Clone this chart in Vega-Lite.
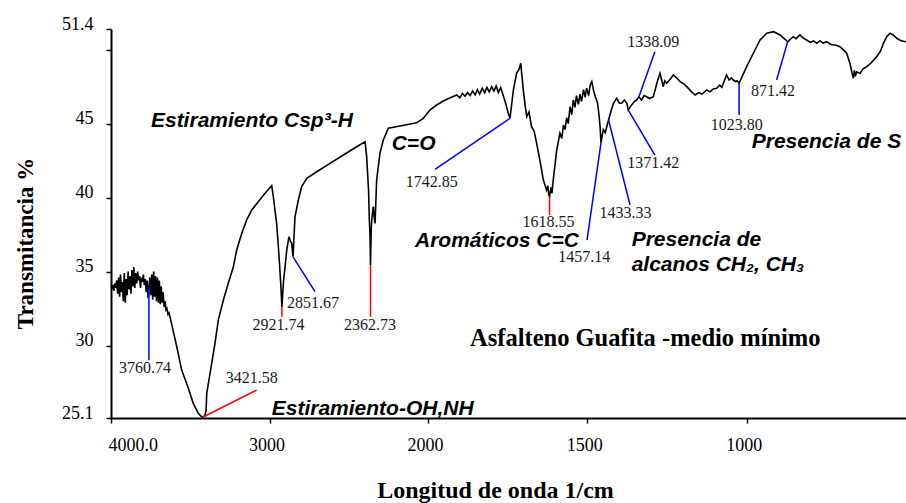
{
  "$schema": "https://vega.github.io/schema/vega-lite/v6.json",
  "width": 795,
  "height": 389,
  "autosize": {"type": "none"},
  "padding": {"left": 111, "top": 29, "right": 0, "bottom": 85},
  "background": "white",
  "config": {
    "view": {"stroke": null},
    "font": "Liberation Serif",
    "axis": {
      "domainColor": "#000000",
      "domainWidth": 2,
      "tickColor": "#000000",
      "tickWidth": 1.5,
      "tickSize": 5,
      "grid": false,
      "labelFont": "Liberation Serif",
      "labelFontSize": 18,
      "labelColor": "#000000",
      "titleFont": "Liberation Serif",
      "titleFontWeight": "bold",
      "titleFontSize": 23,
      "titleColor": "#000000"
    }
  },
  "datasets": {
    "espectro": [
      {"w": 4000, "t": 34.0}, {"w": 3994, "t": 33.9}, {"w": 3988, "t": 34.1}, {"w": 3982, "t": 33.7},
      {"w": 3976, "t": 34.2}, {"w": 3970, "t": 33.9}, {"w": 3964, "t": 34.4}, {"w": 3958, "t": 33.5},
      {"w": 3952, "t": 34.6}, {"w": 3946, "t": 33.3}, {"w": 3940, "t": 34.8}, {"w": 3934, "t": 33.6},
      {"w": 3928, "t": 34.3}, {"w": 3922, "t": 33.0}, {"w": 3916, "t": 34.9}, {"w": 3910, "t": 32.9},
      {"w": 3904, "t": 34.5}, {"w": 3898, "t": 33.4}, {"w": 3892, "t": 35.0}, {"w": 3886, "t": 33.8},
      {"w": 3880, "t": 34.7}, {"w": 3874, "t": 33.5}, {"w": 3868, "t": 35.1}, {"w": 3862, "t": 34.0},
      {"w": 3856, "t": 35.3}, {"w": 3850, "t": 33.9}, {"w": 3844, "t": 34.9}, {"w": 3838, "t": 34.2},
      {"w": 3832, "t": 35.0}, {"w": 3826, "t": 34.4}, {"w": 3820, "t": 34.7}, {"w": 3814, "t": 33.9},
      {"w": 3808, "t": 34.6}, {"w": 3802, "t": 34.3}, {"w": 3796, "t": 34.8}, {"w": 3790, "t": 34.1},
      {"w": 3784, "t": 34.5}, {"w": 3778, "t": 33.6}, {"w": 3772, "t": 34.4}, {"w": 3766, "t": 33.2},
      {"w": 3760.74, "t": 33.9}, {"w": 3755, "t": 34.6}, {"w": 3749, "t": 33.4}, {"w": 3743, "t": 34.8},
      {"w": 3737, "t": 33.1}, {"w": 3731, "t": 35.0}, {"w": 3725, "t": 33.3}, {"w": 3719, "t": 34.7},
      {"w": 3713, "t": 33.0}, {"w": 3707, "t": 34.6}, {"w": 3701, "t": 32.9}, {"w": 3695, "t": 34.4},
      {"w": 3689, "t": 32.8}, {"w": 3683, "t": 34.0}, {"w": 3677, "t": 32.9}, {"w": 3671, "t": 33.6},
      {"w": 3665, "t": 32.6}, {"w": 3659, "t": 33.0}, {"w": 3653, "t": 32.4}, {"w": 3647, "t": 32.5},
      {"w": 3640, "t": 32.1}, {"w": 3634, "t": 32.2}, {"w": 3628, "t": 31.95},
      {"w": 3585, "t": 29.92}, {"w": 3554, "t": 28.34}, {"w": 3512, "t": 27.11}, {"w": 3481, "t": 26.09},
      {"w": 3449, "t": 25.42}, {"w": 3432, "t": 25.22}, {"w": 3421.58, "t": 25.15}, {"w": 3408, "t": 25.25},
      {"w": 3400, "t": 25.6}, {"w": 3396, "t": 26.77}, {"w": 3375, "t": 28.12}, {"w": 3344, "t": 30.15},
      {"w": 3323, "t": 31.72}, {"w": 3291, "t": 33.08}, {"w": 3260, "t": 34.21}, {"w": 3228, "t": 35.33},
      {"w": 3207, "t": 36.46}, {"w": 3175, "t": 37.59}, {"w": 3144, "t": 38.49}, {"w": 3112, "t": 39.16},
      {"w": 3071, "t": 39.72}, {"w": 3028, "t": 40.29}, {"w": 2986, "t": 40.81}, {"w": 2976, "t": 40.06},
      {"w": 2955, "t": 38.26}, {"w": 2944, "t": 36.68}, {"w": 2935, "t": 35.2}, {"w": 2928, "t": 34.0},
      {"w": 2921.74, "t": 32.6}, {"w": 2912, "t": 34.3}, {"w": 2902, "t": 35.3}, {"w": 2891, "t": 36.46},
      {"w": 2877, "t": 37.36}, {"w": 2866, "t": 37.0}, {"w": 2860, "t": 36.91}, {"w": 2851.67, "t": 36.0},
      {"w": 2845, "t": 37.5}, {"w": 2839, "t": 38.71}, {"w": 2818, "t": 39.84}, {"w": 2797, "t": 40.74},
      {"w": 2765, "t": 41.31}, {"w": 2702, "t": 41.75}, {"w": 2618, "t": 42.32}, {"w": 2534, "t": 42.88},
      {"w": 2450, "t": 43.44}, {"w": 2397, "t": 43.78}, {"w": 2387, "t": 42.77}, {"w": 2375, "t": 40.5},
      {"w": 2370, "t": 38.49}, {"w": 2366, "t": 37.5}, {"w": 2362.73, "t": 35.44}, {"w": 2358, "t": 38.0},
      {"w": 2352, "t": 38.8}, {"w": 2345, "t": 39.39}, {"w": 2339, "t": 38.6}, {"w": 2334, "t": 38.26},
      {"w": 2324, "t": 41.19}, {"w": 2303, "t": 43.0}, {"w": 2282, "t": 43.9}, {"w": 2250, "t": 44.69},
      {"w": 2177, "t": 44.84}, {"w": 2071, "t": 45.06}, {"w": 2030, "t": 45.36}, {"w": 1994, "t": 45.92},
      {"w": 1973, "t": 46.26}, {"w": 1952, "t": 46.53}, {"w": 1930, "t": 46.75}, {"w": 1910, "t": 46.94},
      {"w": 1900, "t": 46.75}, {"w": 1892, "t": 47.05}, {"w": 1884, "t": 46.85}, {"w": 1876, "t": 47.1},
      {"w": 1868, "t": 46.9}, {"w": 1860, "t": 47.2}, {"w": 1852, "t": 46.95}, {"w": 1845, "t": 47.3},
      {"w": 1838, "t": 47.0}, {"w": 1830, "t": 47.4}, {"w": 1822, "t": 47.1}, {"w": 1815, "t": 47.45},
      {"w": 1808, "t": 47.15}, {"w": 1800, "t": 47.5}, {"w": 1793, "t": 47.2}, {"w": 1786, "t": 47.55},
      {"w": 1779, "t": 47.1}, {"w": 1772, "t": 47.45}, {"w": 1764, "t": 46.9}, {"w": 1758, "t": 46.5},
      {"w": 1752, "t": 46.0}, {"w": 1748, "t": 45.7}, {"w": 1742.85, "t": 45.36}, {"w": 1738, "t": 46.2},
      {"w": 1732, "t": 47.28}, {"w": 1722, "t": 48.4}, {"w": 1714, "t": 48.7}, {"w": 1709, "t": 49.08},
      {"w": 1705, "t": 48.2}, {"w": 1701, "t": 47.28}, {"w": 1695, "t": 46.2}, {"w": 1690, "t": 45.47},
      {"w": 1683, "t": 45.8}, {"w": 1675, "t": 44.79}, {"w": 1667, "t": 44.5}, {"w": 1659, "t": 43.67},
      {"w": 1649, "t": 42.54}, {"w": 1638, "t": 41.19}, {"w": 1628, "t": 40.51}, {"w": 1624, "t": 40.8},
      {"w": 1621, "t": 40.2}, {"w": 1618.55, "t": 40.06}, {"w": 1614, "t": 40.7}, {"w": 1611, "t": 40.3},
      {"w": 1607, "t": 41.19}, {"w": 1596, "t": 43.22}, {"w": 1586, "t": 44.35}, {"w": 1580, "t": 44.0},
      {"w": 1575, "t": 44.9}, {"w": 1570, "t": 44.6}, {"w": 1565, "t": 45.4}, {"w": 1560, "t": 45.0},
      {"w": 1554, "t": 46.15}, {"w": 1549, "t": 45.6}, {"w": 1544, "t": 46.6}, {"w": 1539, "t": 46.1},
      {"w": 1534, "t": 46.9}, {"w": 1528, "t": 46.3}, {"w": 1523, "t": 47.0}, {"w": 1518, "t": 46.5},
      {"w": 1512, "t": 47.3}, {"w": 1507, "t": 46.8}, {"w": 1502, "t": 47.4}, {"w": 1496, "t": 46.9},
      {"w": 1491, "t": 47.6}, {"w": 1486, "t": 47.84}, {"w": 1480, "t": 47.2}, {"w": 1475, "t": 46.82},
      {"w": 1468, "t": 46.4}, {"w": 1463, "t": 45.5}, {"w": 1460, "t": 44.8}, {"w": 1457.14, "t": 43.7},
      {"w": 1450, "t": 44.6}, {"w": 1444, "t": 44.4}, {"w": 1439, "t": 44.79}, {"w": 1433.33, "t": 45.25},
      {"w": 1425, "t": 45.9}, {"w": 1418, "t": 46.38}, {"w": 1408, "t": 46.71}, {"w": 1400, "t": 46.4},
      {"w": 1392, "t": 46.38}, {"w": 1384, "t": 46.6}, {"w": 1376, "t": 46.38}, {"w": 1371.42, "t": 45.92},
      {"w": 1360, "t": 46.3}, {"w": 1352, "t": 46.5}, {"w": 1345, "t": 46.6}, {"w": 1338.09, "t": 46.82},
      {"w": 1330, "t": 46.6}, {"w": 1322, "t": 46.9}, {"w": 1314, "t": 46.82}, {"w": 1305, "t": 46.7},
      {"w": 1293, "t": 46.82}, {"w": 1287, "t": 47.3}, {"w": 1282, "t": 47.73}, {"w": 1272, "t": 48.4},
      {"w": 1266, "t": 47.9}, {"w": 1262, "t": 47.5}, {"w": 1257, "t": 47.9}, {"w": 1251, "t": 47.73},
      {"w": 1240, "t": 48.0}, {"w": 1230, "t": 48.29}, {"w": 1220, "t": 48.1}, {"w": 1209, "t": 47.84},
      {"w": 1198, "t": 47.7}, {"w": 1188, "t": 47.5}, {"w": 1175, "t": 47.2}, {"w": 1162, "t": 46.94},
      {"w": 1150, "t": 47.1}, {"w": 1140, "t": 47.0}, {"w": 1125, "t": 47.28}, {"w": 1115, "t": 47.15},
      {"w": 1105, "t": 47.35}, {"w": 1094, "t": 47.39}, {"w": 1085, "t": 47.6}, {"w": 1078, "t": 47.45},
      {"w": 1070, "t": 47.9}, {"w": 1063, "t": 48.29}, {"w": 1055, "t": 47.95}, {"w": 1048, "t": 48.1},
      {"w": 1042, "t": 47.95}, {"w": 1035, "t": 47.85}, {"w": 1030, "t": 47.9}, {"w": 1023.8, "t": 47.73},
      {"w": 1000, "t": 48.85}, {"w": 979, "t": 49.76}, {"w": 958, "t": 50.66}, {"w": 937, "t": 51.11},
      {"w": 916, "t": 51.22}, {"w": 895, "t": 51.0}, {"w": 871.42, "t": 50.54}, {"w": 854, "t": 50.88},
      {"w": 845, "t": 50.75}, {"w": 833, "t": 51.0}, {"w": 823, "t": 50.8}, {"w": 812, "t": 50.66},
      {"w": 800, "t": 50.5}, {"w": 790, "t": 50.6}, {"w": 780, "t": 50.43}, {"w": 770, "t": 50.6},
      {"w": 760, "t": 50.45}, {"w": 749, "t": 50.54}, {"w": 735, "t": 50.35}, {"w": 720, "t": 50.3},
      {"w": 707, "t": 50.2}, {"w": 695, "t": 49.95}, {"w": 686, "t": 49.76}, {"w": 675, "t": 49.0},
      {"w": 668, "t": 48.3}, {"w": 665, "t": 48.07}, {"w": 662, "t": 48.6}, {"w": 659, "t": 48.2},
      {"w": 655, "t": 48.5}, {"w": 644, "t": 48.4}, {"w": 635, "t": 48.7}, {"w": 623, "t": 48.85},
      {"w": 610, "t": 49.1}, {"w": 592, "t": 49.53}, {"w": 580, "t": 49.9}, {"w": 571, "t": 50.43},
      {"w": 560, "t": 50.9}, {"w": 550, "t": 51.11}, {"w": 540, "t": 51.0}, {"w": 529, "t": 50.77},
      {"w": 515, "t": 50.6}, {"w": 500, "t": 50.54}
    ],
    "bandas": [
      {"pico": "3760.74", "w": 3760.74, "t": 34.0, "w2": 3760.74, "t2": 29.0, "lw": 3785, "lt": 28.48, "enfasis": "secundaria"},
      {"pico": "3421.58", "w": 3421.58, "t": 25.15, "w2": 3081, "t2": 26.99, "lw": 3112, "lt": 27.78, "enfasis": "principal"},
      {"pico": "2921.74", "w": 2921.74, "t": 32.6, "w2": 2921.74, "t2": 31.95, "lw": 2944, "lt": 31.39, "enfasis": "principal"},
      {"pico": "2851.67", "w": 2851.67, "t": 36.0, "w2": 2713, "t2": 33.64, "lw": 2726, "lt": 32.85, "enfasis": "secundaria"},
      {"pico": "2362.73", "w": 2362.73, "t": 35.44, "w2": 2362.73, "t2": 31.95, "lw": 2366, "lt": 31.39, "enfasis": "principal"},
      {"pico": "1742.85", "w": 1742.85, "t": 45.36, "w2": 1978, "t2": 41.91, "lw": 1988, "lt": 41.08, "enfasis": "secundaria"},
      {"pico": "1618.55", "w": 1618.55, "t": 40.06, "w2": 1618.55, "t2": 38.82, "lw": 1622, "lt": 38.37, "enfasis": "principal"},
      {"pico": "1457.14", "w": 1457.14, "t": 43.7, "w2": 1501, "t2": 37.13, "lw": 1510, "lt": 36.0, "enfasis": "secundaria"},
      {"pico": "1433.33", "w": 1433.33, "t": 45.25, "w2": 1366, "t2": 39.5, "lw": 1380, "lt": 38.94, "enfasis": "secundaria"},
      {"pico": "1371.42", "w": 1371.42, "t": 45.92, "w2": 1288, "t2": 42.88, "lw": 1293, "lt": 42.32, "enfasis": "secundaria"},
      {"pico": "1338.09", "w": 1338.09, "t": 46.82, "w2": 1288, "t2": 49.87, "lw": 1293, "lt": 50.54, "enfasis": "secundaria"},
      {"pico": "1023.80", "w": 1023.8, "t": 47.73, "w2": 1023.8, "t2": 45.59, "lw": 1031, "lt": 44.91, "enfasis": "secundaria"},
      {"pico": "871.42", "w": 871.42, "t": 50.54, "w2": 906, "t2": 47.95, "lw": 917, "lt": 47.23, "enfasis": "secundaria"}
    ],
    "notas": [
      {"texto": "Estiramiento Csp³-H", "w": 3748, "t": 44.75},
      {"texto": "C=O", "w": 2229, "t": 43.22},
      {"texto": "Aromáticos C=C", "w": 2082, "t": 36.64},
      {"texto": "Presencia de", "w": 1361, "t": 36.75},
      {"texto": "alcanos CH₂, CH₃", "w": 1361, "t": 35.06},
      {"texto": "Presencia de S", "w": 984, "t": 43.33},
      {"texto": "Estiramiento-OH,NH", "w": 2986, "t": 25.3}
    ],
    "rotulo": [
      {"texto": "Asfalteno Guafita -medio mínimo", "w": 1868, "t": 29.97}
    ]
  },
  "layer": [
    {
      "data": {"name": "espectro"},
      "mark": {"type": "line", "color": "#000000", "strokeWidth": 1.6, "interpolate": "linear"},
      "encoding": {
        "x": {
          "field": "w", "type": "quantitative",
          "scale": {"type": "linear", "domain": [4000, 2000, 500], "range": [0, 317, 795], "nice": false, "zero": false},
          "axis": {
            "title": "Longitud de onda 1/cm",
            "titleFontSize": 24,
            "values": [4000, 3000, 2000, 1500, 1000],
            "labelExpr": "datum.value == 4000 ? '4000.0' : format(datum.value, 'd')",
            "labelPadding": 27,
            "labelBaseline": "alphabetic",
            "labelOffset": -3,
            "titleX": 384,
            "titleY": 79,
            "titleBaseline": "alphabetic",
            "titleAnchor": "middle"
          }
        },
        "y": {
          "field": "t", "type": "quantitative",
          "scale": {"domain": [25.1, 51.4], "nice": false, "zero": false},
          "axis": {
            "title": "Transmitancia %",
            "values": [25.1, 30, 35, 40, 45, 50, 51.4],
            "labelExpr": "datum.value == 50 ? '' : format(datum.value, '.3~')",
            "labelPadding": 13,
            "labelBaseline": "alphabetic",
            "titleX": -86,
            "titleY": 214,
            "titleAnchor": "middle",
            "titleBaseline": "middle"
          }
        }
      }
    },
    {
      "data": {"name": "bandas"},
      "mark": {"type": "rule", "strokeWidth": 1.5},
      "encoding": {
        "x": {"field": "w", "type": "quantitative", "scale": {"type": "linear", "domain": [4000, 2000, 500], "range": [0, 317, 795], "nice": false, "zero": false}},
        "x2": {"field": "w2"},
        "y": {"field": "t", "type": "quantitative", "scale": {"domain": [25.1, 51.4], "nice": false, "zero": false}},
        "y2": {"field": "t2"},
        "color": {"field": "enfasis", "type": "nominal", "scale": {"domain": ["principal", "secundaria"], "range": ["#ff0000", "#0000ff"]}, "legend": null}
      }
    },
    {
      "data": {"name": "bandas"},
      "mark": {"type": "text", "font": "Liberation Serif", "fontSize": 16, "color": "#1a1a1a", "align": "center", "baseline": "middle"},
      "encoding": {
        "x": {"field": "lw", "type": "quantitative", "scale": {"type": "linear", "domain": [4000, 2000, 500], "range": [0, 317, 795], "nice": false, "zero": false}},
        "y": {"field": "lt", "type": "quantitative", "scale": {"domain": [25.1, 51.4], "nice": false, "zero": false}},
        "text": {"field": "pico"}
      }
    },
    {
      "data": {"name": "notas"},
      "mark": {"type": "text", "font": "Liberation Sans", "fontSize": 21, "fontStyle": "italic", "fontWeight": "bold", "color": "#000000", "align": "left", "baseline": "alphabetic"},
      "encoding": {
        "x": {"field": "w", "type": "quantitative", "scale": {"type": "linear", "domain": [4000, 2000, 500], "range": [0, 317, 795], "nice": false, "zero": false}},
        "y": {"field": "t", "type": "quantitative", "scale": {"domain": [25.1, 51.4], "nice": false, "zero": false}},
        "text": {"field": "texto"}
      }
    },
    {
      "data": {"name": "rotulo"},
      "mark": {"type": "text", "font": "Liberation Serif", "fontSize": 24.5, "fontWeight": "bold", "color": "#000000", "align": "left", "baseline": "alphabetic"},
      "encoding": {
        "x": {"field": "w", "type": "quantitative", "scale": {"type": "linear", "domain": [4000, 2000, 500], "range": [0, 317, 795], "nice": false, "zero": false}},
        "y": {"field": "t", "type": "quantitative", "scale": {"domain": [25.1, 51.4], "nice": false, "zero": false}},
        "text": {"field": "texto"}
      }
    }
  ]
}
